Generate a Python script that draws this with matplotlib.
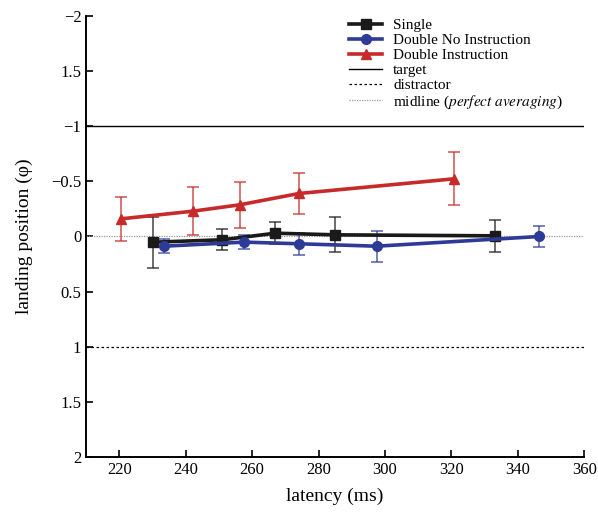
import matplotlib
matplotlib.use('Agg')
import matplotlib.pyplot as plt

plt.rcParams['font.family'] = ['Liberation Serif', 'DejaVu Serif']
plt.rcParams['mathtext.fontset'] = 'stix'

# Single
single_x = [230, 251, 267, 285, 333]
single_y = [0.052, 0.03, -0.03, -0.015, -0.006]
single_err = [0.23, 0.097, 0.10, 0.16, 0.145]

# Double No Instruction
dni_x = [233.5, 257.5, 274, 297.5, 346.5]
dni_y = [0.088, 0.051, 0.066, 0.088, 0.0]
dni_err = [0.063, 0.062, 0.10, 0.14, 0.095]

# Double Instruction
di_x = [220.5, 242.3, 256.2, 274.1, 320.8]
di_y = [-0.16, -0.23, -0.287, -0.39, -0.523]
di_err = [0.20, 0.22, 0.21, 0.19, 0.24]

xticks = [220, 240, 260, 280, 300, 320, 340, 360]
yticks = [-2, -1.5, -1, -0.5, 0, 0.5, 1, 1.5, 2]
yticklabels = ['\u22122', '1.5', '\u22121', '\u22120.5', '0', '0.5', '1', '1.5', '2']

fig = plt.figure(figsize=(5.98, 5.15), dpi=100)
ax = fig.add_axes([0.144, 0.1126, 0.833, 0.8564])

# reference lines
ax.axhline(-1, color='black', lw=1.0, label='target')
ax.axhline(1, color='black', lw=0.9, ls=(0, (2, 2)), label='distractor')
ax.axhline(0, color='#999999', lw=0.9, ls=(0, (1, 1)),
           label='midline ($\\mathit{perfect\\ averaging}$)')

series = [
    (single_x, single_y, single_err, '#1a1a1a', 's', 'Single'),
    (dni_x, dni_y, dni_err, '#2e3b96', 'o', 'Double No Instruction'),
    (di_x, di_y, di_err, '#c62a2a', '^', 'Double Instruction'),
]
for x, y, e, c, m, lab in series:
    ax.errorbar(x, y, yerr=e, fmt='none', ecolor=c, elinewidth=1.2,
                capsize=4, capthick=1.2, alpha=0.75, zorder=3)
    ax.plot(x, y, color=c, lw=2.6, marker=m, ms=7, label=lab, zorder=4)

ref_handles, ref_labels = ax.get_legend_handles_labels()
order = [3, 4, 5, 0, 1, 2]
ax.legend([ref_handles[i] for i in order], [ref_labels[i] for i in order],
          loc='upper right', bbox_to_anchor=(0.985, 1.025), frameon=False,
          fontsize=11, numpoints=1, handlelength=2.2, labelspacing=0.08,
          handletextpad=0.7)

ax.set_xlim(210, 360)
ax.set_ylim(2, -2)
ax.set_xticks(xticks)
ax.set_yticks(yticks)
ax.set_yticklabels(yticklabels)
ax.tick_params(direction='in', length=5, width=1.2, labelsize=12)
for s in ['top', 'right']:
    ax.spines[s].set_visible(False)
for s in ['left', 'bottom']:
    ax.spines[s].set_linewidth(1.4)

ax.set_xlabel('latency (ms)', fontsize=14, labelpad=7)
ax.set_ylabel('landing position (\u03c6)', fontsize=14, labelpad=13)

fig.savefig('out.png', dpi=100)
